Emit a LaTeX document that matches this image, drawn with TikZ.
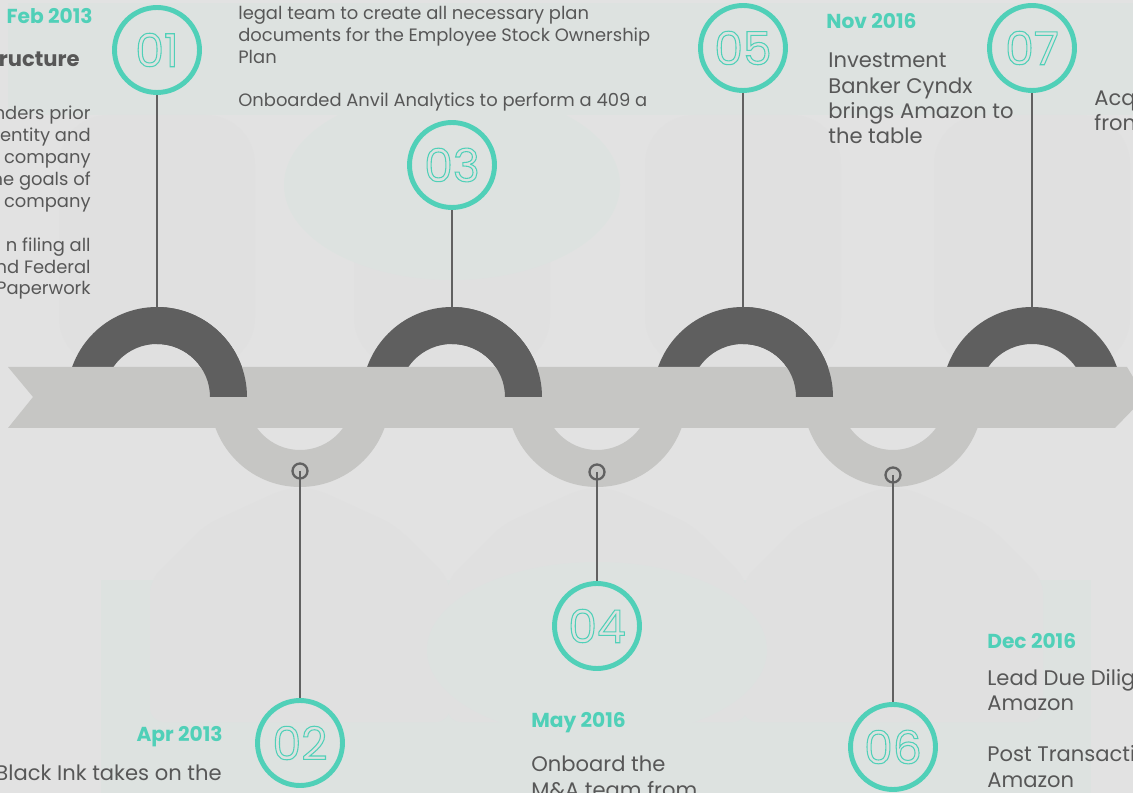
\documentclass[tikz,border=0pt]{standalone}
\usepackage{fontspec}
\setmainfont{Poppins}

\definecolor{pageGray}{HTML}{E2E2E2}
\definecolor{paneMint}{HTML}{DDE2E0}
\definecolor{shieldGray}{HTML}{E0E0E0}
\definecolor{ribbonGray}{HTML}{C6C6C4}
\definecolor{archGray}{HTML}{5F5F5F}
\definecolor{stemGray}{HTML}{616161}
\definecolor{tealMark}{HTML}{50D0B8}
\definecolor{inkGray}{HTML}{575757}

% outlined digits inside the markers
\newcommand\hollow[1]{\special{pdf:literal direct 1 Tr 0.6 w}#1\special{pdf:literal direct 0 Tr}}

\begin{document}
\begin{tikzpicture}[%
  x = 0.02cm, y = -0.02cm,
  marker/.style = {circle, draw = tealMark, line width = 2.8pt, minimum size = 1.7cm,
    inner sep = 0pt, text = tealMark, font = \fontsize{26}{28}\selectfont},
  knot/.style = {circle, draw = stemGray, line width = 1.3pt, minimum size = 0.3cm, inner sep = 0pt},
  stem/.style = {draw = stemGray, line width = 1.6pt},
  date/.style = {text = tealMark, font = \bfseries\fontsize{11.5}{14}\selectfont, inner sep = 0pt},
  note/.style = {text = inkGray, font = \fontsize{10.2}{12.5}\selectfont, inner sep = 0pt},
  bignote/.style = {text = inkGray, font = \fontsize{12}{14.5}\selectfont, inner sep = 0pt}]
  \useasboundingbox (0, 0) rectangle (1133, 793);
  \clip (0, 0) rectangle (1133, 793);

  % page and faint panels
  \fill[pageGray] (0, 0) rectangle (1133, 793);
  \fill[paneMint] (8, 3) rectangle (1133, 115);
  \foreach \ax in {157, 452, 743, 1032}
    \fill[shieldGray, rounded corners = 28] (\ax-98, 115) rectangle (\ax+98, 367);
  \fill[paneMint] (452, 185) ellipse [x radius = 168, y radius = 95];
  \fill[paneMint] (101, 580) rectangle (1091, 793);
  \foreach \bx in {300, 597, 893}
    \fill[shieldGray, rounded corners = 8] (\bx-14, 488) -- (\bx-95, 525) -- (\bx-150, 580)
      -- (\bx-150, 722) -- (\bx+150, 722) -- (\bx+150, 580) -- (\bx+95, 525) -- (\bx+14, 488) -- cycle;
  \fill[paneMint] (597, 650) ellipse [x radius = 170, y radius = 88];

  % rings behind the ribbon
  \foreach \ax in {157, 452, 743, 1032}
    \fill[archGray] (\ax+90, 397) arc[start angle = 0, end angle = -180, radius = 90]
      -- (\ax-53, 397) arc[start angle = 180, end angle = 360, radius = 53] -- cycle;
  \foreach \bx in {300, 597, 893}
    \fill[ribbonGray] (\bx+90, 397) arc[start angle = 0, end angle = 180, radius = 90]
      -- (\bx-53, 397) arc[start angle = 180, end angle = 0, radius = 53] -- cycle;

  % ribbon
  \fill[ribbonGray] (8, 367) -- (1127, 367) -- (1145, 397) -- (1115, 428) -- (8, 428) -- (33, 397) -- cycle;

  % front quarters of the dark rings
  \foreach \ax in {157, 452, 743}
    \fill[archGray] (\ax+90, 397) arc[start angle = 0, end angle = -90, radius = 90]
      -- (\ax, 344) arc[start angle = -90, end angle = 0, radius = 53] -- cycle;

  \coordinate (a1) at (157, 308);
  \coordinate (a3) at (452, 308);
  \coordinate (a5) at (743, 308);
  \coordinate (a7) at (1032, 308);

  \node[marker] (c01) at (157, 50) {\hollow{01}};
  \node[marker] (c03) at (452, 165) {\hollow{03}};
  \node[marker] (c05) at (743, 48) {\hollow{05}};
  \node[marker] (c07) at (1032, 48) {\hollow{07}};
  \node[marker] (c02) at (300, 743) {\hollow{02}};
  \node[marker] (c04) at (597, 626) {\hollow{04}};
  \node[marker] (c06) at (893, 747) {\hollow{06}};

  \node[knot] (k2) at (300, 471) {};
  \node[knot] (k4) at (597, 472) {};
  \node[knot] (k6) at (893, 475) {};

  \draw[stem] (c01) -- (a1);
  \draw[stem] (c03) -- (a3);
  \draw[stem] (c05) -- (a5);
  \draw[stem] (c07) -- (a7);
  \draw[stem] (k2.center) -- (c02);
  \draw[stem] (k4.center) -- (c04);
  \draw[stem] (k6.center) -- (c06);

  % texts above the ribbon (multi-line notes sit on their last line)
  \node[date, anchor = base east] (feb) at (93, 24) {Feb 2013};
  \node[text = inkGray, font = \bfseries\fontsize{12}{14}\selectfont, inner sep = 0pt,
    anchor = base east] (febhead) at (80, 67) {ructure};
  \node[note, anchor = base east, align = right] (febnote) at (91, 295)
    {nders prior\\entity and\\company\\he goals of\\company\\[12.5pt]n filing all\\nd Federal\\Paperwork};
  \node[note, anchor = base west, align = left] (plannote) at (238, 107)
    {legal team to create all necessary plan\\documents for the Employee Stock Ownership\\Plan\\[12.5pt]Onboarded Anvil Analytics to perform a 409 a};
  \node[date, anchor = base west] (nov) at (826, 29) {Nov 2016};
  \node[bignote, anchor = base west, align = left] (novnote) at (828, 144)
    {Investment\\Banker Cyndx\\brings Amazon to\\the table};
  \node[bignote, anchor = base west, align = left] (acqnote) at (1094, 131) {Acq\\fron};

  % texts below the ribbon
  \node[date, anchor = base east] (apr) at (223, 742) {Apr 2013};
  \node[bignote, anchor = base east] (aprnote) at (222, 780) {Black Ink takes on the};
  \node[date, anchor = base west] (may) at (531, 727) {May 2016};
  \node[bignote, anchor = base west, align = left] (maynote) at (531, 797) {Onboard the\\M\&A team from};
  \node[date, anchor = base west] (dec) at (987, 649) {Dec 2016};
  \node[bignote, anchor = base west, align = left] (decnote) at (987, 787)
    {Lead Due Dilig\\Amazon\\[14.5pt]Post Transacti\\Amazon};
\end{tikzpicture}
\end{document}
